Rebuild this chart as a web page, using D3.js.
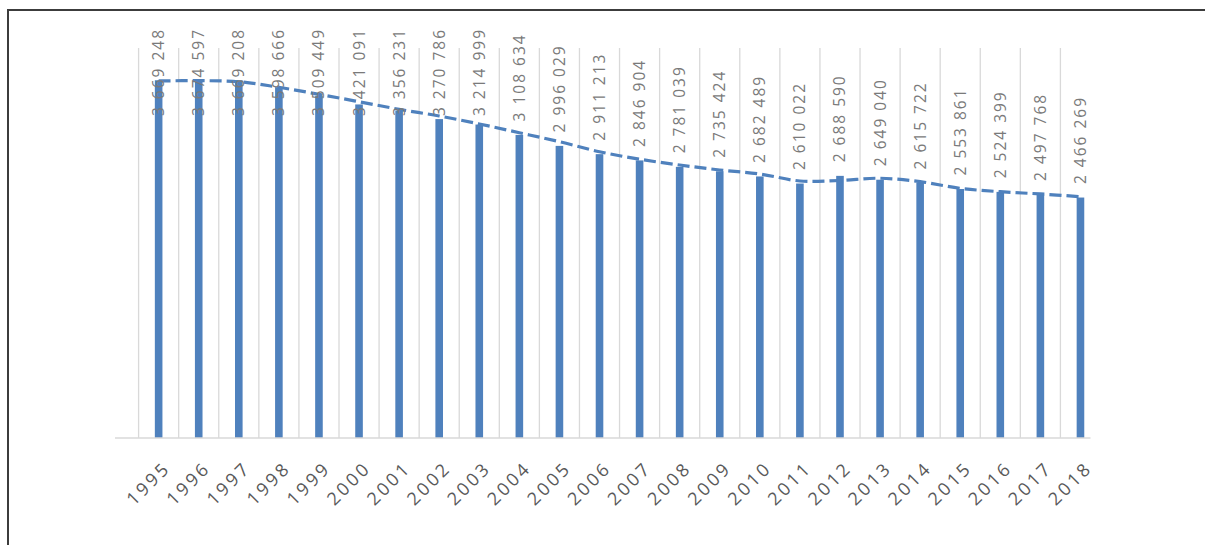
<!DOCTYPE html>
<html>
<head>
<meta charset="utf-8">
<script src="https://cdn.jsdelivr.net/npm/d3@7/dist/d3.min.js"></script>
<style>
  html, body { margin: 0; padding: 0; background: #ffffff; }
  svg { display: block; }
</style>
</head>
<body>
<svg id="chart" width="1205" height="545"></svg>
<script>
// Yearly series
const years = ["1995","1996","1997","1998","1999","2000","2001","2002","2003","2004","2005","2006",
  "2007","2008","2009","2010","2011","2012","2013","2014","2015","2016","2017","2018"];
const values = [3669248, 3674597, 3669208, 3598666, 3509449, 3421091, 3356231, 3270786, 3214999,
  3108634, 2996029, 2911213, 2846904, 2781039, 2735424, 2682489, 2610022, 2688590, 2649040,
  2615722, 2553861, 2524399, 2497768, 2466269];
// Trend line (dashed) values per year
const trend = [3662000, 3665000, 3654000, 3597000, 3525000, 3449000, 3371000, 3303000, 3221000,
  3131000, 3039000, 2936000, 2859000, 2800000, 2749000, 2708000, 2636000, 2641000, 2664000,
  2629000, 2561000, 2526000, 2503000, 2475000];
const yDomain = [0, 4000000];

const svg = d3.select("#chart");
const blue = "#4f81bd";
const fmt = v => d3.format(",")(v).replace(/,/g, " ");

const x = d3.scaleBand().domain(years).range([138.6, 1100.5]).padding(0);
const y = d3.scaleLinear().domain(yDomain).range([438, 48]);
const step = x.step();
const cx = d => x(d) + step / 2;
const barW = 7.6;

// outer frame
svg.append("path")
  .attr("d", "M8,546 V10 H1210")
  .attr("fill", "none").attr("stroke", "#3c3c3c").attr("stroke-width", 2);

// vertical category gridlines
svg.append("g").selectAll("line").data(years).enter().append("line")
  .attr("x1", d => x(d)).attr("x2", d => x(d))
  .attr("y1", y(yDomain[1])).attr("y2", y(0))
  .attr("stroke", "#d9d9d9").attr("stroke-width", 1.3);

// bars
svg.append("g").selectAll("rect").data(years).enter().append("rect")
  .attr("x", d => cx(d) - barW / 2)
  .attr("width", barW)
  .attr("y", (d, i) => y(values[i]))
  .attr("height", (d, i) => y(0) - y(values[i]))
  .attr("fill", blue);

// category axis line
svg.append("line")
  .attr("x1", x.range()[0] - 23.6).attr("x2", x.range()[1] - 10)
  .attr("y1", y(0)).attr("y2", y(0))
  .attr("stroke", "#d9d9d9").attr("stroke-width", 1.5);

// dashed trend line
const line = d3.line()
  .x((d, i) => cx(years[i]))
  .y(d => y(d))
  .curve(d3.curveCatmullRom.alpha(0.5));
svg.append("path")
  .datum(trend)
  .attr("d", line)
  .attr("fill", "none")
  .attr("stroke", blue)
  .attr("stroke-width", 3.2)
  .attr("stroke-dasharray", "12,5");

// value labels, rotated, kept below the top of the chart area
const labels = svg.append("g").selectAll("text").data(years).enter().append("text")
  .attr("font-family", "'Open Sans', sans-serif")
  .attr("font-size", 15.5)
  .attr("letter-spacing", 2)
  .attr("fill", "#7a7a7a")
  .attr("text-anchor", "start")
  .text((d, i) => fmt(values[i]));
labels.each(function (d, i) {
  const len = this.getComputedTextLength();
  let start = y(values[i]) - 13.5;
  if (start - len < 28) start = 28 + len;
  d3.select(this).attr("transform", `translate(${cx(d) + 5.5},${start}) rotate(-90)`);
});

// year labels
svg.append("g").selectAll("text").data(years).enter().append("text")
  .attr("font-family", "'Open Sans', sans-serif")
  .attr("font-size", 18)
  .attr("letter-spacing", 3)
  .attr("fill", "#595959")
  .attr("text-anchor", "end")
  .attr("transform", d => `translate(${cx(d) + 13},${469}) rotate(-45)`)
  .text(d => d);
</script>
</body>
</html>
